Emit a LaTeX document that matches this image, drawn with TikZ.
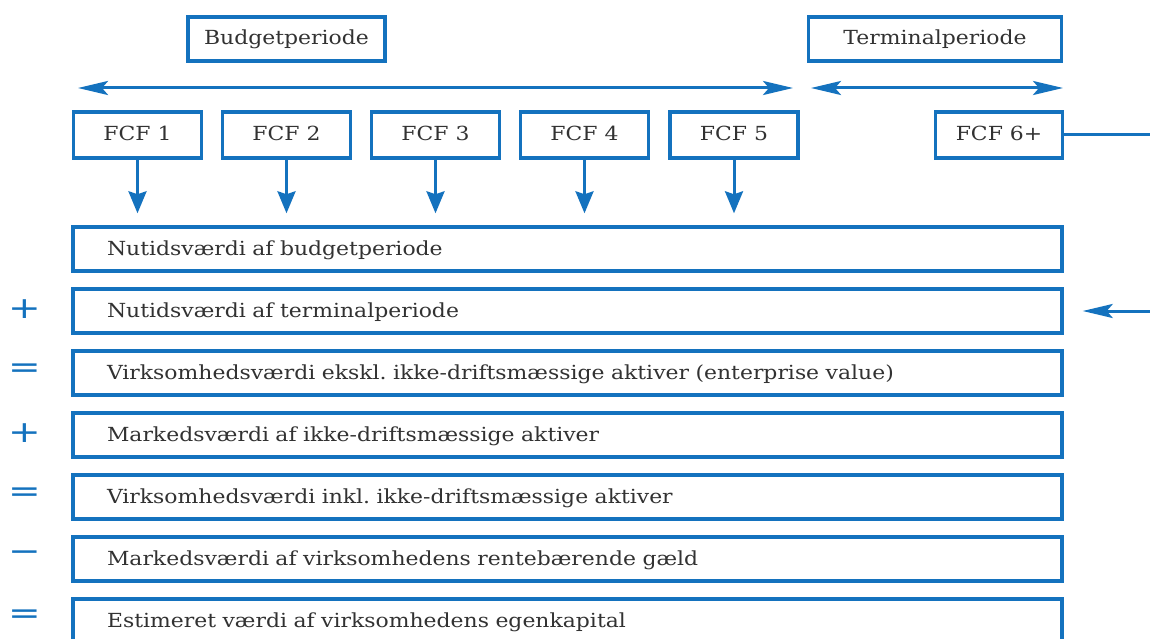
\documentclass[tikz,border=0pt]{standalone}
\usepackage{fontspec}
\setmainfont{DejaVu Serif}[FakeStretch=1.13]
\newfontfamily\opfont{DejaVu Sans}[FakeStretch=1.3]
\usetikzlibrary{arrows.meta}
\definecolor{fblue}{RGB}{20,114,190}
\definecolor{ftext}{RGB}{50,50,50}
\frenchspacing
\tikzset{
  basebox/.style={draw=fblue, line width=3.4pt, text=ftext, inner sep=0pt,
    font=\fontsize{19.4}{23}\selectfont, text height=16pt, text depth=4pt},
  headbox/.style={basebox, minimum height=44pt},
  fcfbox/.style={basebox, minimum width=128pt, minimum height=46pt},
  rowbox/.style={basebox, minimum height=44pt, text width=921pt, align=left, inner xsep=34pt},
  opsign/.style={text=fblue, inner sep=0pt, font=\opfont\fontsize{30}{32}\selectfont},
  harrow/.style={draw=fblue, line width=3pt, {Stealth[length=30pt,width=14pt,inset=6pt]}-{Stealth[length=30pt,width=14pt,inset=6pt]}},
  varrow/.style={draw=fblue, line width=3pt, -{Stealth[length=22pt,width=18pt,inset=3pt]}},
  rarrow/.style={draw=fblue, line width=3pt, -{Stealth[length=30pt,width=14pt,inset=6pt]}},
}
\begin{document}
\begin{tikzpicture}[x=1pt,y=-1pt]
\useasboundingbox (0,0) rectangle (1150,639);
\clip (0,0) rectangle (1150,639);
\fill[white] (0,0) rectangle (1150,639);

% headers
\node[headbox, minimum width=197pt] (bud) at (286.5,39) {Budgetperiode};
\node[headbox, minimum width=253pt] (term) at (935,39) {Terminalperiode};

% period arrows
\coordinate (la) at (78,88);
\coordinate (lb) at (793,88);
\coordinate (ra) at (811,88);
\coordinate (rb) at (1063,88);
\draw[harrow] (la) -- (lb);
\draw[harrow] (ra) -- (rb);

% FCF boxes
\node[fcfbox] (f1) at (137.5,135) {FCF 1};
\node[fcfbox] (f2) at (286.5,135) {FCF 2};
\node[fcfbox] (f3) at (435.5,135) {FCF 3};
\node[fcfbox] (f4) at (584.5,135) {FCF 4};
\node[fcfbox] (f5) at (734,135) {FCF 5};
\node[fcfbox, minimum width=127pt] (f6) at (999,135) {FCF 6+};

% rows
\node[rowbox] (r1) at (567.5,249) {Nutidsværdi af budgetperiode};
\node[rowbox] (r2) at (567.5,311) {Nutidsværdi af terminalperiode};
\node[rowbox] (r3) at (567.5,373) {Virksomhedsværdi ekskl. ikke-driftsmæssige aktiver (enterprise value)};
\node[rowbox] (r4) at (567.5,435) {Markedsværdi af ikke-driftsmæssige aktiver};
\node[rowbox] (r5) at (567.5,497) {Virksomhedsværdi inkl. ikke-driftsmæssige aktiver};
\node[rowbox] (r6) at (567.5,559) {Markedsværdi af virksomhedens rentebærende gæld};
\node[rowbox] (r7) at (567.5,621) {Estimeret værdi af virksomhedens egenkapital};

% operators
\node[opsign] (o2) at (25,309) {+};
\node[opsign] (o3) at (25,371) {=};
\node[opsign] (o4) at (25,433) {+};
\node[opsign] (o5) at (25,495) {=};
\node[opsign] (o6) at (25,556) {−};
\node[opsign] (o7) at (25,617) {=};

% FCF arrows
\foreach \f in {f1,f2,f3,f4,f5}
  \draw[varrow, shorten >=12pt] (\f.south) -- (\f.south |- r1.north);

% terminal value connector
\coordinate (edge) at (1151,0);
\draw[rarrow, shorten >=19pt] (f6.east) -- (f6.east -| edge) |- (r2.east);
\end{tikzpicture}
\end{document}
